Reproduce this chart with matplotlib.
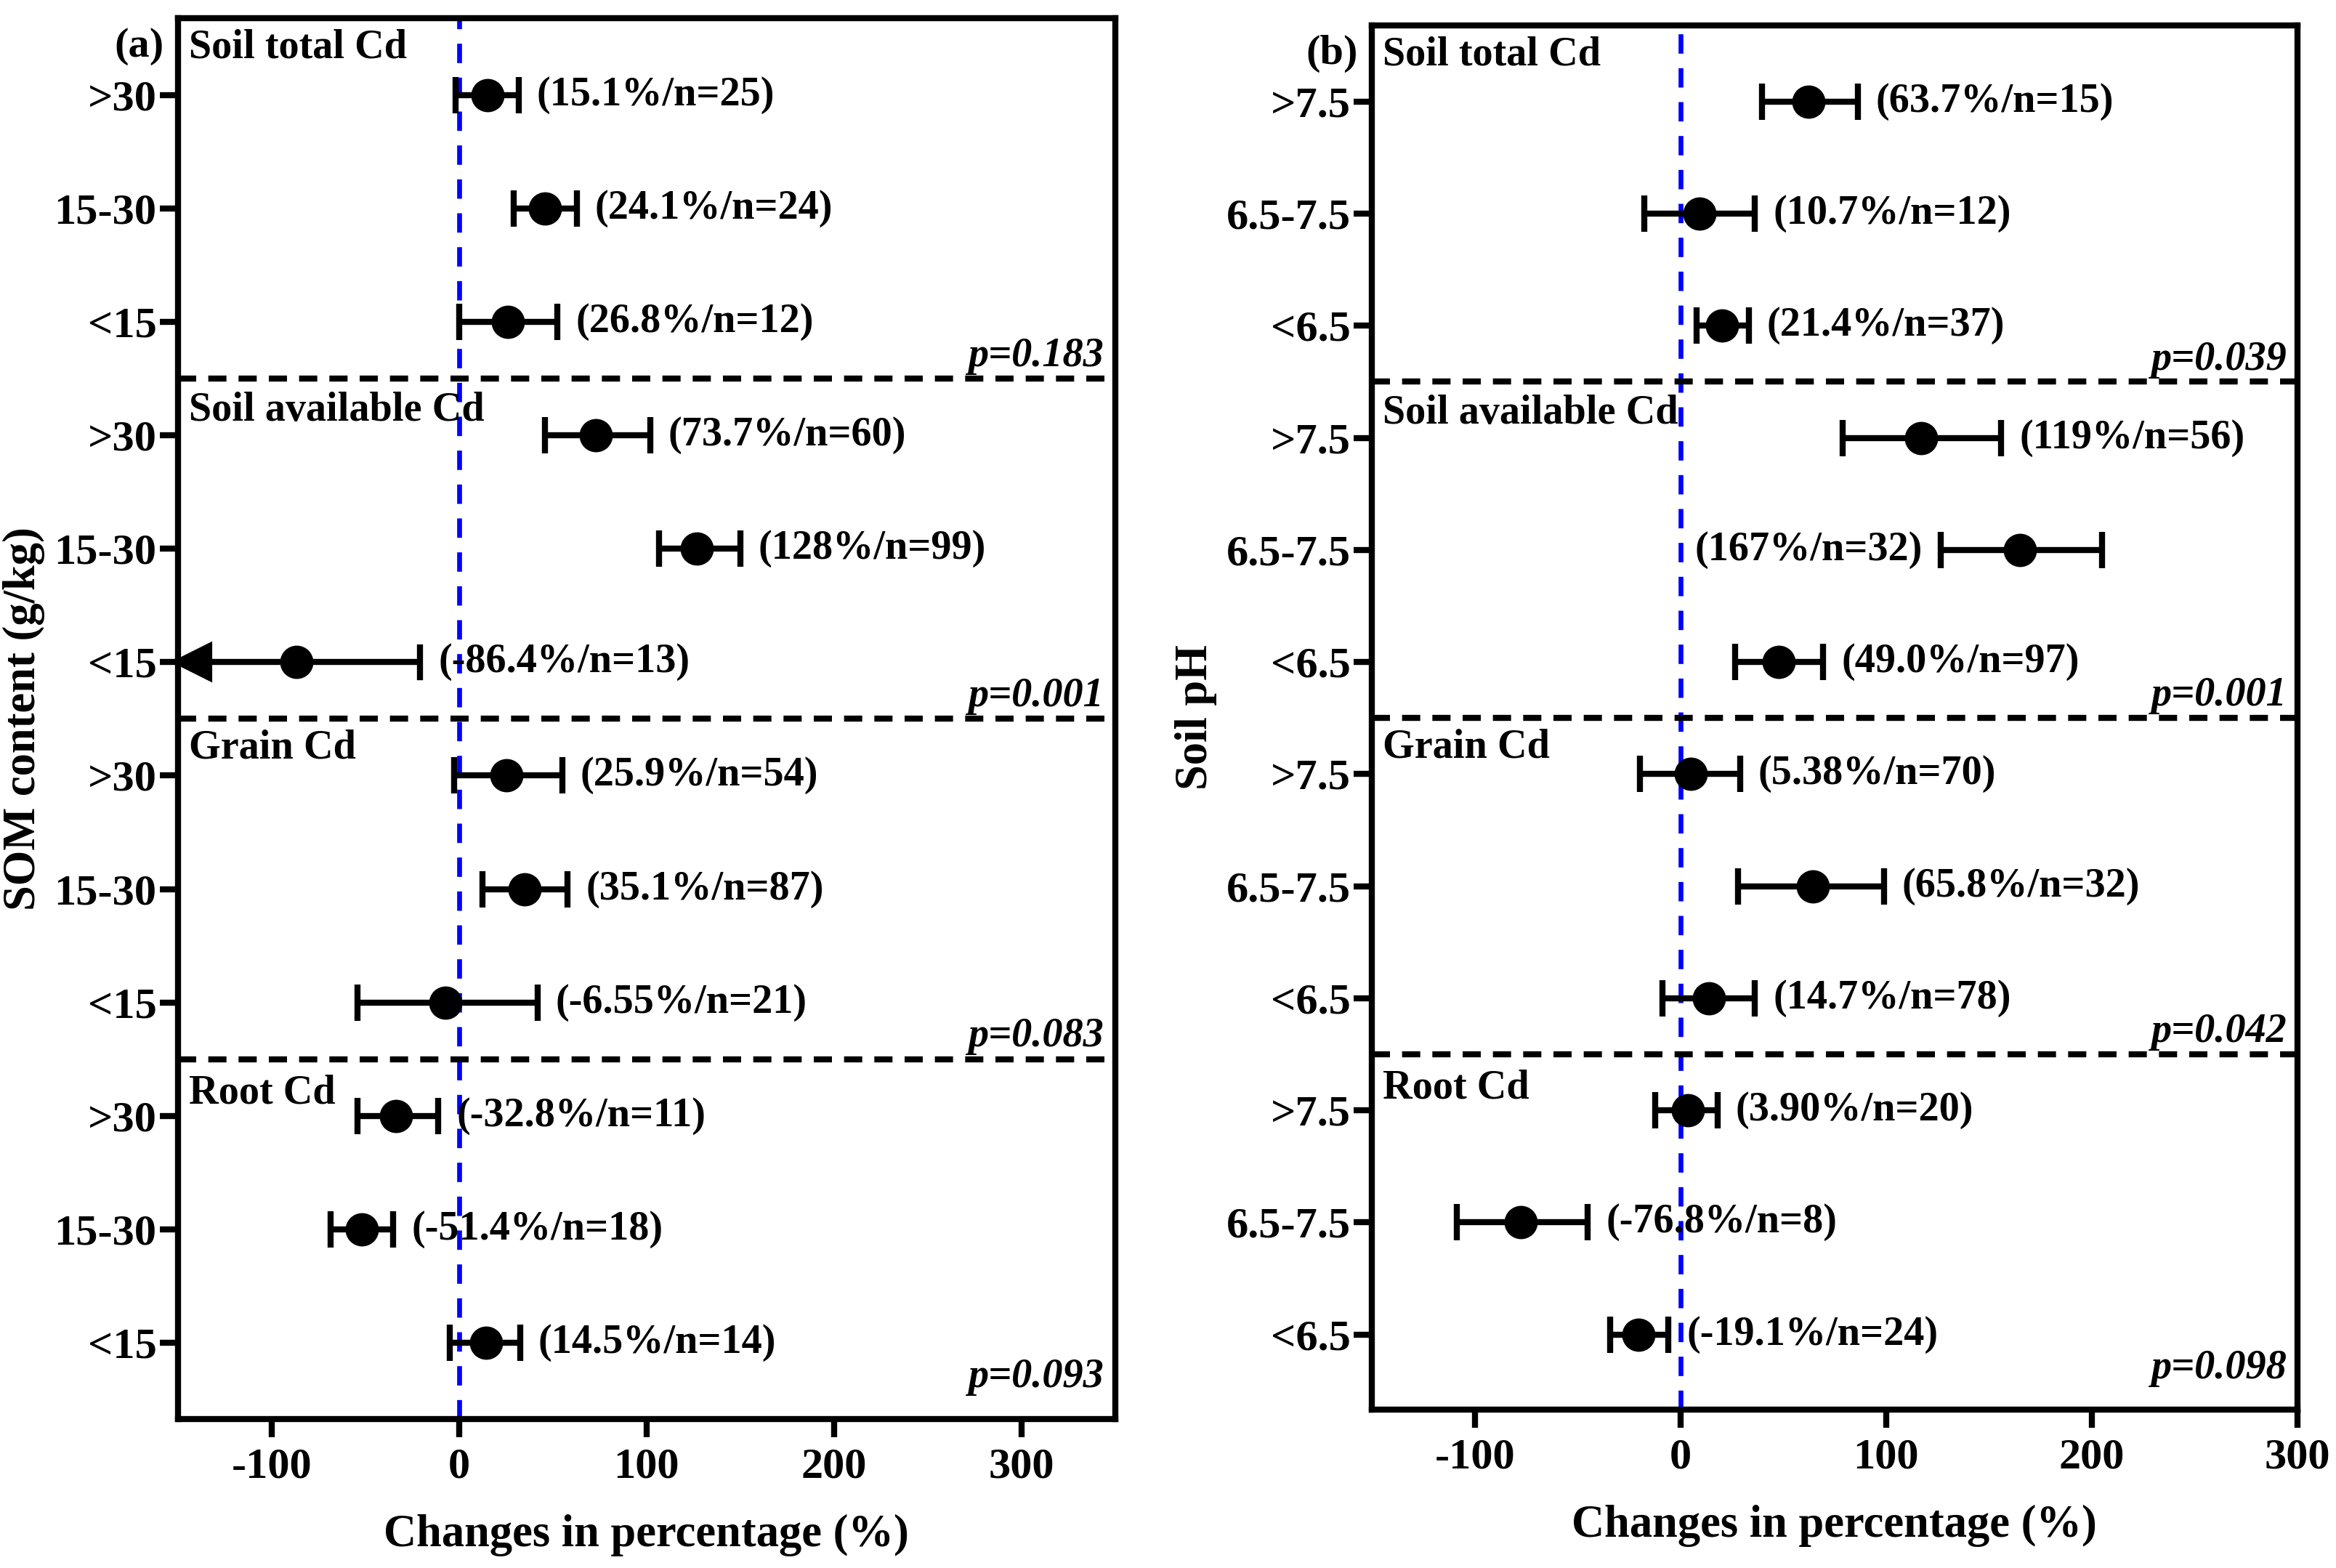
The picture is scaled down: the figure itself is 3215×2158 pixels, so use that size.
import matplotlib
matplotlib.use("Agg")
from matplotlib import pyplot as plt

plt.rcParams["font.family"] = "Liberation Serif"
plt.rcParams["font.weight"] = "bold"
plt.rcParams["axes.unicode_minus"] = False

groups = ["Soil total Cd", "Soil available Cd", "Grain Cd", "Root Cd"]

# panel (a): SOM content
som_levels = [">30", "15-30", "<15"]
som_mean = [15.1, 46, 26.3, 73.2, 127, -86.7, 25.5, 35, -7.2, -33.4, -51.7, 14.3]
som_low = [-1.6, 29.4, 0, 46, 106.6, None, -2.4, 12.7, -54, -54, -68.4, -4.8]
som_high = [31.8, 62.8, 52.5, 102, 150, -20.7, 55, 58, 42, -11, -35, 32.6]
som_text = ["(15.1%/n=25)", "(24.1%/n=24)", "(26.8%/n=12)",
            "(73.7%/n=60)", "(128%/n=99)", "(-86.4%/n=13)",
            "(25.9%/n=54)", "(35.1%/n=87)", "(-6.55%/n=21)",
            "(-32.8%/n=11)", "(-51.4%/n=18)", "(14.5%/n=14)"]
som_p = ["p=0.183", "p=0.001", "p=0.083", "p=0.093"]

# panel (b): soil pH
ph_levels = [">7.5", "6.5-7.5", "<6.5"]
ph_mean = [62.3, 9.4, 20.3, 117, 165, 47.8, 5, 64.4, 13.8, 3.6, -77.5, -20.3]
ph_low = [39.8, -17.4, 8, 79, 126.7, 26.8, -19.6, 28.2, -8.7, -12.3, -108.6, -34]
ph_high = [86.2, 36.2, 33.3, 156, 205, 69.5, 29, 99, 36.2, 18, -45, -5.8]
ph_text = ["(63.7%/n=15)", "(10.7%/n=12)", "(21.4%/n=37)",
           "(119%/n=56)", "(167%/n=32)", "(49.0%/n=97)",
           "(5.38%/n=70)", "(65.8%/n=32)", "(14.7%/n=78)",
           "(3.90%/n=20)", "(-76.8%/n=8)", "(-19.1%/n=24)"]
ph_p = ["p=0.039", "p=0.001", "p=0.042", "p=0.098"]
ph_left_label = [4]  # label drawn on the left side of the bar


def panel(ax, levels, mean, low, high, text, pvals, xlim, ylabel, tag, left_label=()):
    xmin, xmax = xlim
    n = len(mean)
    ys = list(range(n))
    for i in range(n):
        y = ys[i]
        lo = low[i]
        if lo is None:
            # lower limit runs off the axis -> arrow
            ax.plot([xmin + 1, high[i]], [y, y], color="black", lw=2, solid_capstyle="butt")
            ax.plot([high[i], high[i]], [y - 0.13, y + 0.13], color="black", lw=2)
            ax.plot(xmin + 8, y, marker="<", color="black", markersize=12, clip_on=False)
        else:
            ax.errorbar(mean[i], y, xerr=[[mean[i] - lo], [high[i] - mean[i]]],
                        fmt="none", ecolor="black", elinewidth=2, capsize=6, capthick=2)
        ax.plot(mean[i], y, "o", color="black", markersize=10, zorder=5)
        if i in left_label:
            ax.annotate(text[i], (lo, y), xytext=(-6, 0), textcoords="offset points",
                        ha="right", va="center", fontsize=13.5, fontweight="bold")
        else:
            ax.annotate(text[i], (high[i], y), xytext=(6, 0), textcoords="offset points",
                        ha="left", va="center", fontsize=13.5, fontweight="bold")

    ax.axvline(0, color="blue", ls=(0, (4, 3)), lw=1.6, zorder=1)
    for k in range(1, len(groups)):
        ax.axhline(3 * k - 0.5, color="black", ls=(0, (3, 2)), lw=2)
    off = [-0.42, -0.22, -0.24, -0.2]
    for k, g in enumerate(groups):
        ax.text(xmin + 0.012 * (xmax - xmin), 3 * k + off[k], g, ha="left", va="center",
                fontsize=13.5, fontweight="bold")
        ax.text(xmax - 0.012 * (xmax - xmin), 3 * k + 2.3, pvals[k], ha="right", va="center",
                fontsize=13.5, fontweight="bold", style="italic")

    ax.set_xlim(xmin, xmax)
    ax.set_ylim(n - 0.33, -0.68)
    ax.set_xticks([-100, 0, 100, 200, 300])
    ax.set_yticks(ys)
    ax.set_yticklabels(levels * len(groups))
    ax.tick_params(axis="both", labelsize=14.5, width=2, length=6)
    ax.tick_params(axis="y", pad=1)
    for s in ax.spines.values():
        s.set_linewidth(2)
    ax.set_xlabel("Changes in percentage (%)", fontsize=15, fontweight="bold", labelpad=9)
    ax.set_ylabel(ylabel, fontsize=15, fontweight="bold", labelpad=3)
    ax.text(-0.015, 0.993, tag, transform=ax.transAxes, ha="right", va="top",
            fontsize=14, fontweight="bold")


fig = plt.figure(figsize=(3215 / 300, 2158 / 300), dpi=300)
ax1 = fig.add_axes([0.0761, 0.0952, 0.4012, 0.8934])
ax2 = fig.add_axes([0.5873, 0.1010, 0.3961, 0.8828])

panel(ax1, som_levels, som_mean, som_low, som_high, som_text, som_p, (-150, 350),
      "SOM content (g/kg)", "(a)")
panel(ax2, ph_levels, ph_mean, ph_low, ph_high, ph_text, ph_p, (-150, 300),
      "Soil pH", "(b)", left_label=ph_left_label)

fig.savefig("out.png", dpi=300)
